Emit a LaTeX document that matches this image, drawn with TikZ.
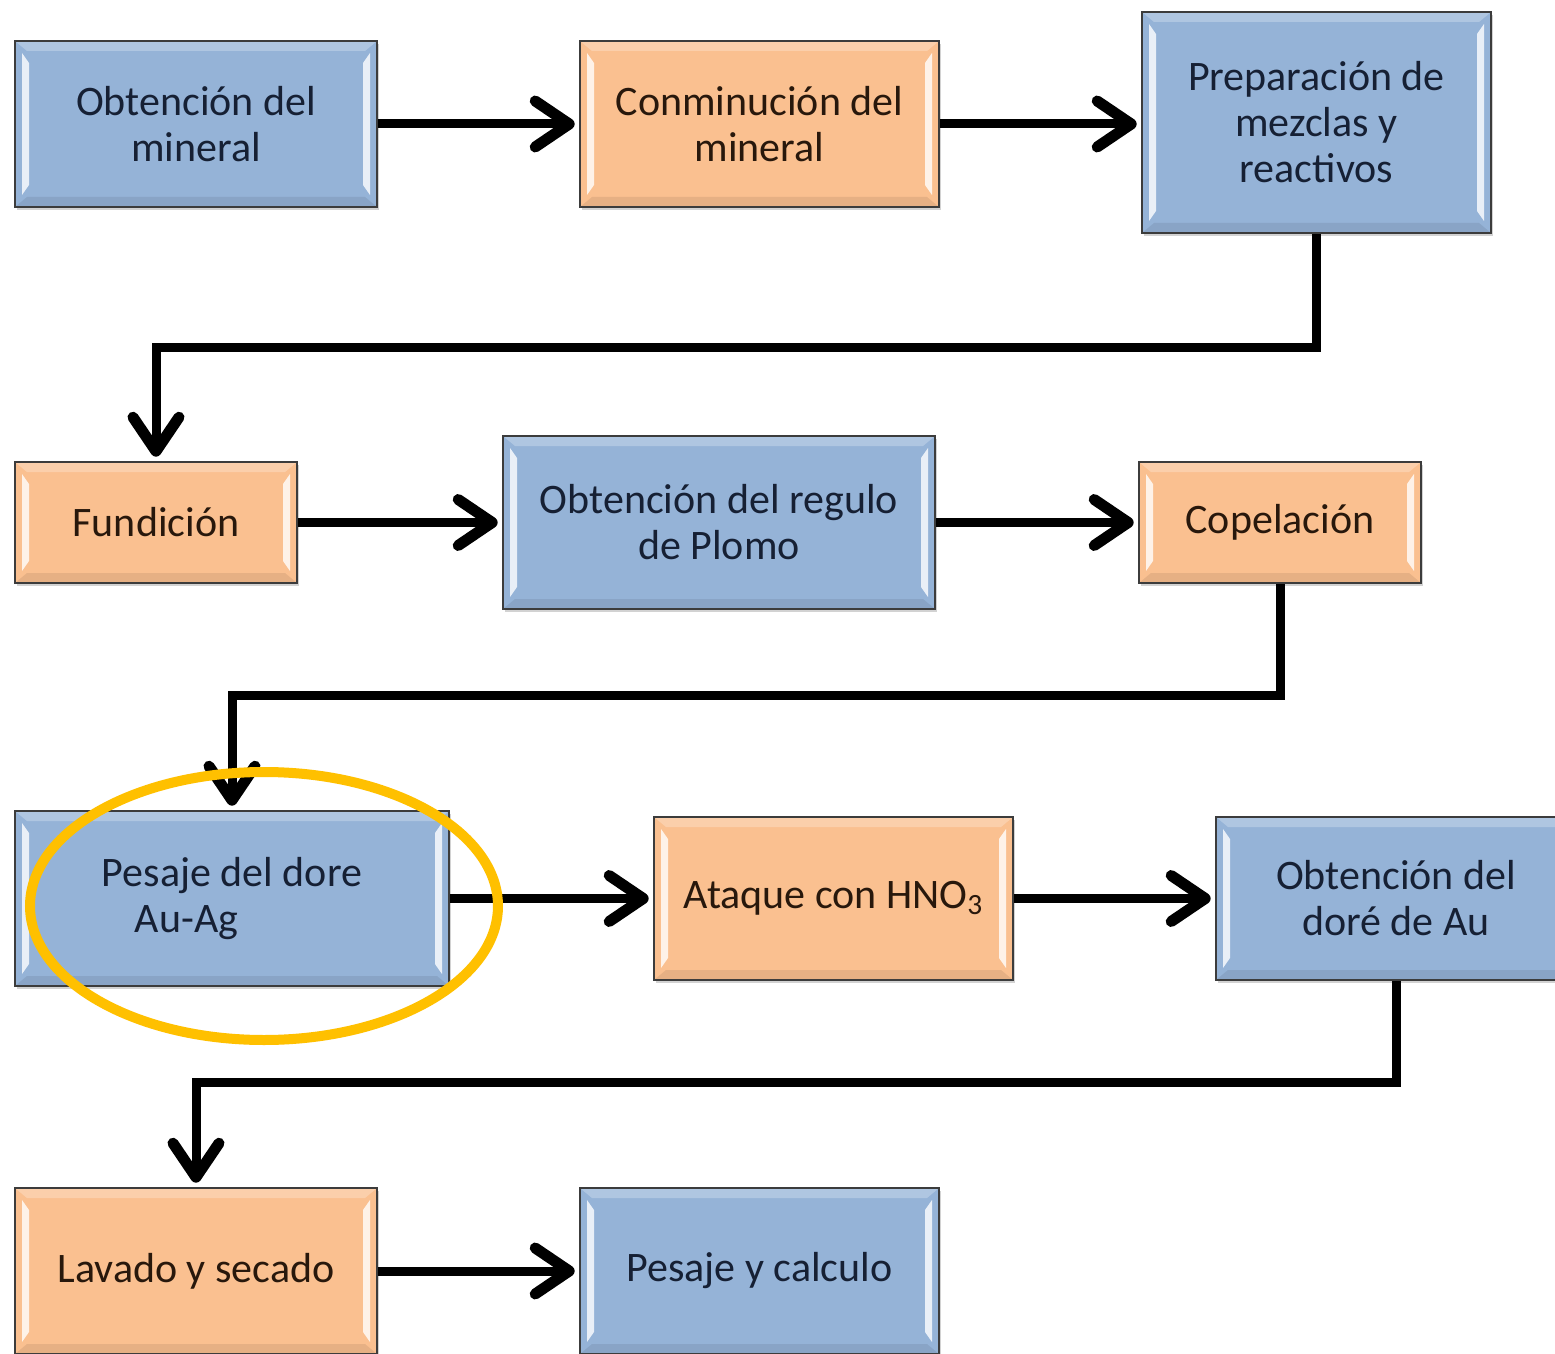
\documentclass[tikz,border=0pt]{standalone}
\usepackage{fontspec}
\setmainfont{Carlito}
\usetikzlibrary{arrows.meta,calc,shadows}
\definecolor{bxblue}{RGB}{149,179,215}
\definecolor{bxorange}{RGB}{250,192,144}
\definecolor{bxedge}{RGB}{60,60,60}
\definecolor{hlgold}{RGB}{255,192,0}
\definecolor{txblue}{RGB}{22,32,52}
\definecolor{txbrown}{RGB}{40,24,12}
\tikzset{
  bevel/.style={path picture={
    \coordinate (pa) at (path picture bounding box.north west);
    \coordinate (pb) at (path picture bounding box.south east);
    \fill[white,opacity=.25] (pa) -- (pa -| pb) -- ($(pa -| pb)+(-12,10)$) -- ($(pa)+(12,10)$) -- cycle;
    \fill[black,opacity=.08] (pb) -- (pb -| pa) -- ($(pb -| pa)+(12,-10)$) -- ($(pb)+(-12,-10)$) -- cycle;
    \fill[white,opacity=.8] ($(pa)+(7,12)$) -- ($(pa)+(14,22)$) -- ($(pa |- pb)+(14,-22)$) -- ($(pa |- pb)+(7,-12)$) -- cycle;
    \fill[white,opacity=.8] ($(pb |- pa)+(-7,12)$) -- ($(pb |- pa)+(-14,22)$) -- ($(pb)+(-14,-22)$) -- ($(pb)+(-7,-12)$) -- cycle;
  }},
  box/.style={draw=bxedge, line width=1.3pt, inner sep=0pt, align=center,
    font=\fontsize{21}{23}\selectfont,
    drop shadow={shadow xshift=1pt, shadow yshift=-1.5pt, opacity=.35}, bevel},
  bluebox/.style={box, fill=bxblue, text=txblue},
  orangebox/.style={box, fill=bxorange, text=txbrown},
  flow/.style={line width=4.5pt, -{Straight Barb[length=17pt,width=23pt,line width=5.5pt,round]}, shorten >=2pt}
}
\begin{document}
\begin{tikzpicture}[x=0.5pt,y=-0.5pt]
\clip (0,0) rectangle (1555,1354);
\fill[white] (0,0) rectangle (1555,1354);
% row 1
\node[bluebox, minimum width=181pt, minimum height=83pt] (n1) at (196,124) {Obtención del\\mineral};
\node[orangebox, minimum width=179.5pt, minimum height=83pt] (n2) at (759.5,124) {Conminución del\\mineral};
\node[bluebox, minimum width=174.5pt, minimum height=110.5pt] (n3) at (1316.5,122.5) {Preparación de\\mezclas y\\reactivos};
% row 2
\node[orangebox, minimum width=141pt, minimum height=60.5pt] (n4) at (156,522.5) {Fundición};
\node[bluebox, minimum width=216pt, minimum height=86.5pt] (n5) at (719,522.5) {Obtención del regulo\\de Plomo};
\node[orangebox, minimum width=141pt, minimum height=60.5pt] (n6) at (1280,522.5) {Copelación};
% row 3
\node[bluebox, minimum width=217pt, minimum height=87.5pt, align=left] (n7) at (232,898.5) {Pesaje del dore\\\hspace*{16.5pt}Au-Ag};
\node[orangebox, minimum width=179.5pt, minimum height=81.5pt] (n8) at (833.5,898.5) {Ataque con HNO\textsubscript{3}};
\node[bluebox, minimum width=180pt, minimum height=81.5pt] (n9) at (1396,898.5) {Obtención del\\doré de Au};
% row 4
\node[orangebox, minimum width=181pt, minimum height=83pt] (n10) at (196,1271) {Lavado y secado};
\node[bluebox, minimum width=179.5pt, minimum height=83pt] (n11) at (759.5,1271) {Pesaje y calculo};
% junction levels
\coordinate (j1) at (0,347);
\coordinate (j2) at (0,695);
\coordinate (j3) at (0,1082);
% connectors
\draw[flow] (n1.east) -- (n2.west);
\draw[flow] (n2.east) -- (n2.east -| n3.west);
\draw[flow] (n3.south) -- (n3.south |- j1) -| (n4.north);
\draw[flow] (n4.east) -- (n5.west);
\draw[flow] (n5.east) -- (n6.west);
\draw[flow] (n6.south) -- (n6.south |- j2) -| (n7.north);
\draw[flow] (n7.east) -- (n8.west);
\draw[flow] (n8.east) -- (n9.west);
\draw[flow] (n9.south) -- (n9.south |- j3) -| (n10.north);
\draw[flow] (n10.east) -- (n11.west);
% highlight
\draw[hlgold, line width=5pt] (264,906) ellipse [x radius=117pt, y radius=67pt];
\end{tikzpicture}
\end{document}
